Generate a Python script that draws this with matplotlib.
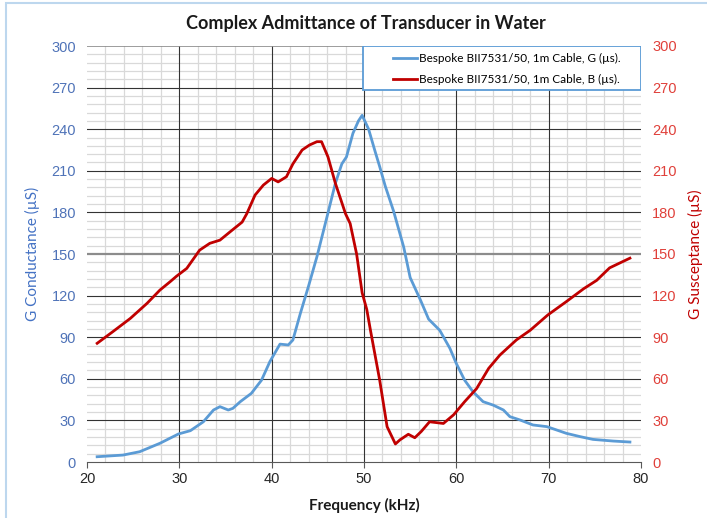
import numpy as np
import matplotlib; matplotlib.use("Agg")
import matplotlib.pyplot as plt
from matplotlib.patches import Rectangle
from matplotlib.ticker import MultipleLocator

BLUE = "#5B9BD5"; RED = "#C00000"; INK = "#262626"
plt.rcParams.update({"font.family": ["Liberation Sans", "DejaVu Sans"], "font.size": 10})

# conductance G (uS) vs frequency (kHz)
g_freq = [21.1, 23.9, 25.7, 27.9, 29.9, 31.2, 32.6, 33.7, 34.4, 35.3, 35.8, 36.6, 37.8, 38.9,
          39.8, 40.9, 41.8, 42.3, 43.1, 44.0, 44.9, 46.0, 46.9, 47.6, 48.1, 48.8, 49.4, 49.8,
          50.5, 51.2, 51.7, 52.3, 53.2, 54.3, 55.0, 56.1, 57.0, 58.2, 59.3, 60.0, 60.9, 61.8,
          62.9, 64.0, 65.1, 65.8, 66.9, 68.3, 69.8, 70.9, 71.9, 73.4, 74.8, 77.0, 78.8]
g_vals = [3.8, 5.0, 7.4, 13.5, 20.2, 22.6, 29.0, 37.5, 39.9, 37.5, 38.7, 43.5, 49.5, 59.0,
          72.3, 85.0, 84.4, 88.0, 107.0, 127.0, 148.0, 177.0, 201.0, 215.0, 220.0, 237.0, 246.0, 250.0,
          240.0, 224.0, 213.0, 199.0, 181.0, 155.0, 133.0, 117.0, 103.0, 95.0, 82.0, 71.0, 59.0, 50.7,
          43.5, 41.0, 37.5, 32.7, 30.3, 26.7, 25.5, 23.0, 20.7, 18.3, 16.3, 15.1, 14.4]

# susceptance B (uS) vs frequency (kHz)
b_freq = [21.1, 22.8, 24.7, 26.5, 27.9, 29.0, 29.7, 30.8, 32.2, 33.3, 34.4, 35.5, 36.8, 37.3,
          38.2, 39.1, 40.0, 40.7, 41.6, 42.3, 43.3, 44.1, 44.9, 45.4, 46.1, 46.9, 47.4, 48.0,
          48.5, 49.2, 49.8, 50.3, 50.7, 51.7, 52.5, 53.4, 53.9, 54.8, 55.5, 56.2, 57.1, 58.6,
          59.7, 60.9, 62.2, 63.5, 64.7, 66.5, 68.0, 69.9, 71.9, 73.8, 75.2, 76.6, 78.8]
b_vals = [85.6, 94.0, 103.6, 114.4, 124.0, 130.0, 134.0, 139.6, 152.8, 157.7, 160.0, 166.0, 173.0, 179.0,
          192.5, 199.7, 204.5, 202.0, 205.7, 215.0, 225.0, 228.6, 231.0, 231.0, 220.0, 201.0, 191.0, 179.0,
          172.0, 150.0, 122.0, 110.0, 95.0, 59.0, 25.5, 13.0, 16.0, 20.0, 17.5, 22.0, 29.0, 27.8,
          34.0, 43.5, 53.0, 67.5, 77.0, 88.0, 95.0, 106.0, 115.6, 125.0, 131.0, 140.0, 147.0]

fig = plt.figure(figsize=(7.07, 5.18), dpi=100)
fig.patches.append(Rectangle((6/707, -0.1), 1.2, 1.0 + 0.1 - 3/518, transform=fig.transFigure,
                             fill=False, edgecolor="#BDD7EE", lw=1.5))
ax = fig.add_axes([87/707, 1-462/518, 554/707, 416/518])

ax.set_xlim(20, 80); ax.set_ylim(0, 300)
ax.xaxis.set_major_locator(MultipleLocator(10)); ax.xaxis.set_minor_locator(MultipleLocator(2))
ax.yaxis.set_major_locator(MultipleLocator(30)); ax.yaxis.set_minor_locator(MultipleLocator(6))
ax.grid(which="minor", color="#D9D9D9", lw=0.9, zorder=0)
# major grid drawn on top of the minor one
for xv in range(30, 80, 10):
    ax.axvline(xv, color="#333333", lw=0.8, zorder=1)
for yv in range(30, 300, 30):
    ax.axhline(yv, color="#8C8C8C" if yv == 150 else "#333333", lw=1.6 if yv == 150 else 0.8, zorder=1)
ax.axhline(300, color="#8C8C8C", lw=1.2, zorder=1)
ax.set_axisbelow(True)
for s in ("top", "right", "left"): ax.spines[s].set_visible(False)
ax.spines["bottom"].set_color("#595959")
ax.tick_params(axis="y", which="both", length=0, colors="#4F73B8", labelsize=10.5, pad=8)
ax.tick_params(axis="x", which="minor", length=0)
ax.tick_params(axis="x", which="major", length=4, color="#595959", labelcolor=INK, labelsize=10.5)

l1, = ax.plot(g_freq, g_vals, color=BLUE, lw=2, label="Bespoke BII7531/50, 1m Cable, G (µs).", zorder=3)
ax2 = ax.twinx()
ax2.set_ylim(0, 300); ax2.yaxis.set_major_locator(MultipleLocator(30))
for s in ax2.spines.values(): s.set_visible(False)
ax2.tick_params(axis="y", length=0, colors="#E0403A", labelsize=10.5, pad=8)
l2, = ax2.plot(b_freq, b_vals, color=RED, lw=2, label="Bespoke BII7531/50, 1m Cable, B (µs).", zorder=3)

ax.set_xlabel("Frequency (kHz)", fontsize=11, fontweight="bold", family="Lato", color="#1a1a1a", labelpad=8)
ax.set_ylabel("G Conductance (µS)", fontsize=11, family="Lato", color="#4472C4", labelpad=8)
ax2.set_ylabel("G Susceptance (µS)", fontsize=11, family="Lato", color=RED, labelpad=8)
fig.text(0.518, 0.955, "Complex Admittance of Transducer in Water", ha="center", va="center",
         fontsize=13, fontweight="bold", family="Lato", color="#1a1a1a")

# legend box: white panel with blue edge in the top-right corner
ax2.add_patch(Rectangle(((363-87)/554, (462-90)/416), 1-(363-87)/554, 1-(462-90)/416,
                        transform=ax2.transAxes, facecolor="white", edgecolor=BLUE, lw=1.3, zorder=5))
leg = ax2.legend(handles=[l1, l2], loc="center left", bbox_to_anchor=((393-87)/554, (462-69)/416),
                 borderaxespad=0, borderpad=0, frameon=False, handlelength=2.0, handletextpad=0.2,
                 labelspacing=0.85, prop={"family": "Lato", "size": 8.5})
leg.set_zorder(6)

fig.savefig("out.png", dpi=100)
